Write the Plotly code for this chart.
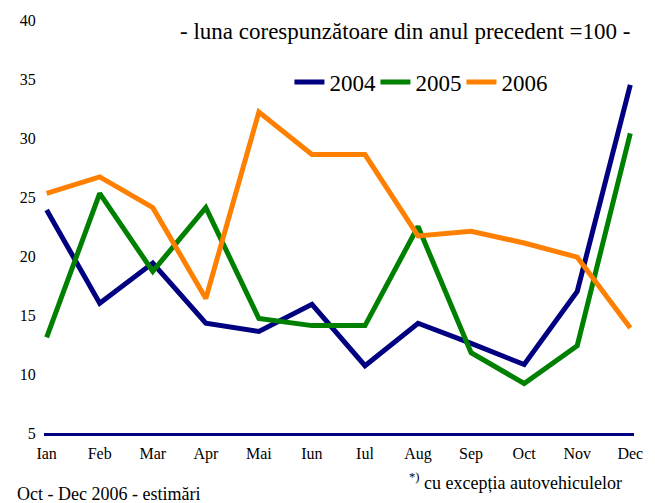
import plotly.graph_objects as go

months = ["Ian", "Feb", "Mar", "Apr", "Mai", "Iun", "Iul", "Aug", "Sep", "Oct", "Nov", "Dec"]
y2004 = [23.9, 16.0, 19.4, 14.3, 13.6, 15.9, 10.7, 14.3, 12.6, 10.8, 17.0, 34.5]
y2005 = [13.1, 25.3, 18.7, 24.1, 14.7, 14.1, 14.1, 22.5, 11.8, 9.2, 12.4, 30.4]
y2006 = [25.3, 26.7, 24.1, 16.4, 32.2, 28.6, 28.6, 21.7, 22.1, 21.1, 19.9, 13.9]

series = [("2004", y2004, "#000080"), ("2005", y2005, "#008000"), ("2006", y2006, "#FF8000")]

FONT = "Liberation Serif"

fig = go.Figure()
for name, vals, color in series:
    fig.add_trace(go.Scatter(
        x=months, y=vals, mode="lines", name=name,
        line=dict(color=color, width=5),
    ))

fig.update_layout(
    width=655, height=503,
    margin=dict(l=44, r=16, t=20, b=70),
    paper_bgcolor="white", plot_bgcolor="white",
    font=dict(family=FONT, size=16, color="black"),
    showlegend=True,
    legend=dict(orientation="h", x=0.416, y=0.85, xanchor="left", yanchor="middle",
                font=dict(family=FONT, size=23), bgcolor="rgba(0,0,0,0)", itemwidth=30,
                entrywidth=41, entrywidthmode="pixels", tracegroupgap=0),
)
fig.update_xaxes(
    type="category", range=[-0.05, 11.07], showgrid=False,
    showline=True, linecolor="#000080", linewidth=3,
    ticks="outside", ticklen=4, tickcolor="white",
    tickfont=dict(size=16, family=FONT),
)
fig.update_yaxes(
    range=[5, 40], dtick=5, showgrid=False, zeroline=False, showline=False,
    ticks="outside", ticklen=4, tickcolor="white",
    tickfont=dict(size=16, family=FONT),
)

fig.add_annotation(text="- luna corespunzătoare din anul precedent =100 -",
                   xref="paper", yref="paper", x=0.612, y=0.971, xanchor="center", yanchor="middle",
                   showarrow=False, font=dict(size=23, family=FONT))
fig.add_annotation(text="<sup>*)</sup> cu excepția autovehiculelor",
                   xref="paper", yref="paper", x=0.983, y=-0.1186, xanchor="right", yanchor="middle",
                   showarrow=False, font=dict(size=18, family=FONT))
fig.add_annotation(text="Oct - Dec 2006 - estimări",
                   xref="paper", yref="paper", x=-0.05, y=-0.147, xanchor="left", yanchor="middle",
                   showarrow=False, font=dict(size=18, family=FONT))

fig.write_html("out.html", config={"displayModeBar": False},
               post_script="document.body.style.margin='0';")
